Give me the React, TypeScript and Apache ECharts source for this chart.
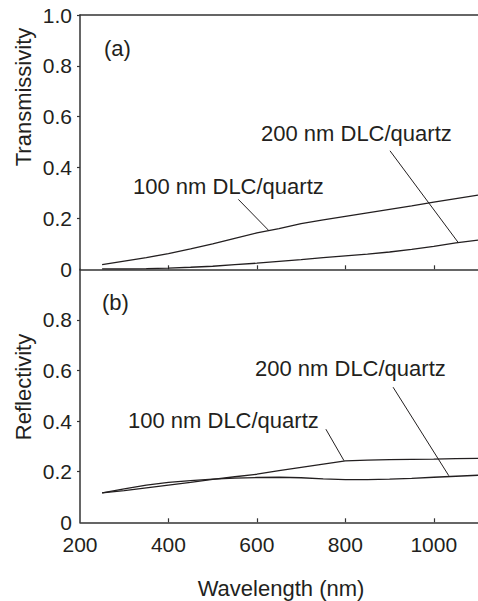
import React, { useEffect, useRef } from "react";
import * as echarts from "echarts";

const wavelengths = [250, 300, 350, 400, 450, 500, 550, 600, 650, 700, 750, 800, 850, 900, 950, 1000, 1050, 1100];
const trans100 = [0.018, 0.032, 0.046, 0.062, 0.08, 0.1, 0.122, 0.143, 0.16, 0.18, 0.194, 0.208, 0.222, 0.236, 0.249, 0.264, 0.278, 0.292];
const trans200 = [0.002, 0.002, 0.003, 0.005, 0.008, 0.012, 0.018, 0.024, 0.031, 0.038, 0.046, 0.053, 0.06, 0.068, 0.078, 0.09, 0.104, 0.115];
const refl100 = [0.116, 0.125, 0.136, 0.147, 0.158, 0.17, 0.18, 0.19, 0.204, 0.217, 0.23, 0.243, 0.246, 0.248, 0.249, 0.25, 0.252, 0.253];
const refl200 = [0.116, 0.132, 0.147, 0.158, 0.165, 0.171, 0.175, 0.177, 0.178, 0.176, 0.172, 0.169, 0.169, 0.171, 0.174, 0.178, 0.182, 0.186];

const xTicks = [400, 600, 800, 1000];
const xLabels = [200, 400, 600, 800, 1000];
const yTicks = [0.2, 0.4, 0.6, 0.8, 1.0];
const yLabelsTop = [0, 0.2, 0.4, 0.6, 0.8, 1.0];
const yLabelsBottom = [0, 0.2, 0.4, 0.6, 0.8];

// leader lines [x1, y1, x2, y2] in data units
const leaderTop100 = [558, 0.275, 626, 0.154];
const leaderTop200 = [901, 0.466, 1055, 0.106];
const leaderBot100 = [756, 0.368, 797, 0.2435];
const leaderBot200 = [908, 0.534, 1034, 0.184];

const INK = "#231f20";
const AXIS = "#333333";
const FONT = "'Liberation Sans', Arial, Helvetica, sans-serif";

function pairs(xs: number[], ys: number[]) {
  return xs.map((x, i) => [x, ys[i]]);
}

function leader(l: number[]) {
  return {
    silent: true,
    symbol: "none",
    label: { show: false },
    lineStyle: { color: INK, width: 1, type: "solid" },
    emphasis: { disabled: true },
    data: [[{ coord: [l[0], l[1]] }, { coord: [l[2], l[3]] }]],
  };
}

function fmt(v: number) {
  return v === 0 ? "0" : v.toFixed(1);
}

export default function App() {
  const ref = useRef<HTMLDivElement>(null);
  useEffect(() => {
    if (!ref.current) return;
    const chart = echarts.init(ref.current, null, { renderer: "svg" });
    const axisLine = { show: true, onZero: false, lineStyle: { color: AXIS, width: 1.5 } };
    const xTick = { show: true, inside: true, length: 4, customValues: xTicks, lineStyle: { color: AXIS, width: 1.2 } };
    const yTick = { show: true, inside: false, length: 3, customValues: yTicks, lineStyle: { color: AXIS, width: 1.2 } };
    const labelStyle = { color: INK, fontSize: 21, fontFamily: FONT };
    chart.setOption({
      animation: false,
      backgroundColor: "#ffffff",
      grid: [
        { left: 80, top: 15, width: 398, height: 254.3, containLabel: false },
        { left: 80, top: 269.3, width: 398, height: 253, containLabel: false },
      ],
      xAxis: [
        {
          type: "value", gridIndex: 0, min: 200, max: 1100, position: "bottom",
          axisLine, axisTick: xTick, axisLabel: { show: false }, splitLine: { show: false },
        },
        {
          type: "value", gridIndex: 0, min: 200, max: 1100, position: "top",
          axisLine, axisTick: { show: false }, axisLabel: { show: false }, splitLine: { show: false },
        },
        {
          type: "value", gridIndex: 1, min: 200, max: 1100, position: "bottom",
          axisLine, axisTick: xTick,
          axisLabel: { ...labelStyle, margin: 12, customValues: xLabels, formatter: (v: number) => String(v) },
          splitLine: { show: false },
        },
      ],
      yAxis: [
        {
          type: "value", gridIndex: 0, min: 0, max: 1, interval: 0.2,
          axisLine, axisTick: yTick,
          axisLabel: { ...labelStyle, margin: 8, padding: [7, 0, 0, 0], customValues: yLabelsTop, formatter: fmt },
          splitLine: { show: false },
        },
        {
          type: "value", gridIndex: 1, min: 0, max: 1, interval: 0.2,
          axisLine, axisTick: { ...yTick, customValues: [0.2, 0.4, 0.6, 0.8] },
          axisLabel: { ...labelStyle, margin: 8, padding: [2, 0, 0, 0], customValues: yLabelsBottom, formatter: fmt },
          splitLine: { show: false },
        },
      ],
      series: [
        {
          name: "T 100 nm DLC/quartz", type: "line", xAxisIndex: 0, yAxisIndex: 0,
          data: pairs(wavelengths, trans100), showSymbol: false, symbol: "none",
          lineStyle: { color: INK, width: 1.3 }, markLine: leader(leaderTop100),
        },
        {
          name: "T 200 nm DLC/quartz", type: "line", xAxisIndex: 0, yAxisIndex: 0,
          data: pairs(wavelengths, trans200), showSymbol: false, symbol: "none",
          lineStyle: { color: INK, width: 1.3 }, markLine: leader(leaderTop200),
        },
        {
          name: "R 100 nm DLC/quartz", type: "line", xAxisIndex: 2, yAxisIndex: 1,
          data: pairs(wavelengths, refl100), showSymbol: false, symbol: "none",
          lineStyle: { color: INK, width: 1.3 }, markLine: leader(leaderBot100),
        },
        {
          name: "R 200 nm DLC/quartz", type: "line", xAxisIndex: 2, yAxisIndex: 1,
          data: pairs(wavelengths, refl200), showSymbol: false, symbol: "none",
          lineStyle: { color: INK, width: 1.3 }, markLine: leader(leaderBot200),
        },
      ],
      graphic: [
        { type: "text", x: 23, y: 97, rotation: Math.PI / 2, style: { text: "Transmissivity", fill: INK, font: `22px ${FONT}`, align: "center", verticalAlign: "middle" } },
        { type: "text", x: 23, y: 387, rotation: Math.PI / 2, style: { text: "Reflectivity", fill: INK, font: `22px ${FONT}`, align: "center", verticalAlign: "middle" } },
        { type: "text", x: 281, y: 588, style: { text: "Wavelength (nm)", fill: INK, font: `22px ${FONT}`, align: "center", verticalAlign: "middle" } },
        { type: "text", x: 104, y: 48, style: { text: "(a)", fill: INK, font: `22px ${FONT}`, align: "left", verticalAlign: "middle" } },
        { type: "text", x: 102, y: 302, style: { text: "(b)", fill: INK, font: `22px ${FONT}`, align: "left", verticalAlign: "middle" } },
        { type: "text", x: 133, y: 186, style: { text: "100 nm DLC/quartz", fill: INK, font: `22px ${FONT}`, align: "left", verticalAlign: "middle" } },
        { type: "text", x: 261, y: 133, style: { text: "200 nm DLC/quartz", fill: INK, font: `22px ${FONT}`, align: "left", verticalAlign: "middle" } },
        { type: "text", x: 128, y: 420, style: { text: "100 nm DLC/quartz", fill: INK, font: `22px ${FONT}`, align: "left", verticalAlign: "middle" } },
        { type: "text", x: 255, y: 368, style: { text: "200 nm DLC/quartz", fill: INK, font: `22px ${FONT}`, align: "left", verticalAlign: "middle" } },
      ],
    });
    return () => chart.dispose();
  }, []);
  return (
    <div
      ref={ref}
      style={{ position: "fixed", left: 0, top: 0, width: 478, height: 601, background: "#fff" }}
    />
  );
}
